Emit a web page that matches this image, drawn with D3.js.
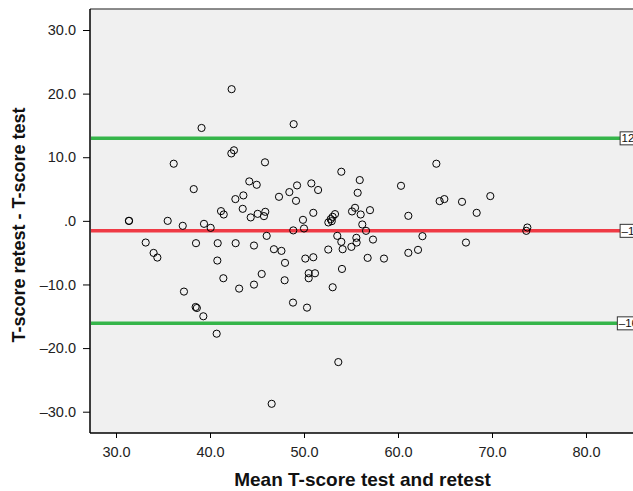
<!DOCTYPE html>
<html>
<head>
<meta charset="utf-8">
<script src="https://cdn.jsdelivr.net/npm/d3@7"></script>
<style>
  body { margin: 0; background: #fff; }
  svg { display: block; font-family: "Liberation Sans", Arial, sans-serif; }
</style>
</head>
<body>
<div id="chart"></div>
<script>
// mean of test and retest (x) and difference retest - test (y)
var meanScore = [42.3, 39.1, 48.9, 42.27, 42.55, 45.85, 36.14, 64.08, 53.97, 44.18,
  55.93, 44.97, 49.26, 50.78, 60.32, 38.27, 51.5, 48.44, 55.71, 43.55,
  47.34, 69.82, 42.7, 49.15, 64.43, 64.93, 66.81, 43.48, 41.17, 41.46,
  45.07, 45.88, 45.74, 44.33, 55.43, 55.11, 57.02, 56.03, 50.99, 68.37,
  61.1, 49.89, 53.3, 53.05, 52.84, 52.59, 52.95, 31.38, 31.38, 35.5,
  37.1, 39.36, 40.07, 48.86, 50.0, 56.2, 56.6, 73.76, 73.65, 46.03,
  53.54, 55.57, 57.34, 62.6, 33.16, 38.51, 40.82, 42.73, 44.68, 53.97,
  55.6, 67.23, 46.8, 47.6, 55.04, 54.11, 52.58, 62.13, 61.1, 34.0,
  34.4, 40.78, 47.98, 50.14, 50.99, 56.77, 58.51, 54.04, 45.5, 41.42,
  47.94, 50.5, 51.17, 50.5, 43.1, 44.68, 53.05, 37.23, 38.47, 38.6,
  39.29, 48.83, 50.32, 40.71, 46.56, 53.65]
var diffScore = [20.7, 14.6, 15.2, 10.6, 11.09, 9.2, 8.98, 8.98, 7.72, 6.2,
  6.41, 5.67, 5.57, 5.89, 5.51, 4.99, 4.85, 4.52, 4.41, 4.0,
  3.78, 3.89, 3.42, 3.15, 3.1, 3.42, 2.99, 1.89, 1.53, 1.0,
  1.1, 1.42, 0.74, 0.54, 2.05, 1.48, 1.68, 1.0, 1.26, 1.26,
  0.79, 0.16, 1.06, 0.63, 0.27, -0.25, -0.05, 0.0, 0.0, 0.0,
  -0.78, -0.47, -1.1, -1.5, -1.2, -0.57, -1.57, -1.05, -1.57, -2.36,
  -2.36, -2.67, -2.94, -2.41, -3.41, -3.51, -3.51, -3.51, -3.88, -3.3,
  -3.41, -3.41, -4.46, -4.72, -4.09, -4.46, -4.51, -4.56, -5.03, -5.04,
  -5.77, -6.24, -6.6, -5.93, -5.72, -5.82, -5.93, -7.56, -8.35, -9.02,
  -9.34, -8.24, -8.24, -9.02, -10.65, -10.02, -10.44, -11.12, -13.54, -13.7,
  -15.0, -12.85, -13.64, -17.74, -28.76, -22.2]

// mean difference and limits of agreement
var refValues = [12.97, -1.57, -16.11]
var refLabels = ['12.97', '\u20131.57', '\u201316.11']
var refColors = ['#35b54a', '#ef3a45', '#35b54a']

var xTicks = [30, 40, 50, 60, 70, 80]
var xTickLabels = ['30.0', '40.0', '50.0', '60.0', '70.0', '80.0']
var yTicks = [30, 20, 10, 0, -10, -20, -30]
var yTickLabels = ['30.0', '20.0', '10.0', '.0', '\u201310.0', '\u201320.0', '\u201330.0']

var W = 633, H = 491
var plot = {left: 90, top: 9, right: 633, bottom: 433}

var x = d3.scaleLinear().domain([30, 80]).range([116, 586])
var y = d3.scaleLinear().domain([-30, 30]).range([411.7, 30])

var svg = d3.select('#chart').append('svg')
  .attr('width', W)
  .attr('height', H)

svg.append('rect')
  .attr('x', plot.left)
  .attr('y', plot.top)
  .attr('width', plot.right - plot.left)
  .attr('height', plot.bottom - plot.top)
  .style('fill', '#f0f0f0')

svg.append('line')
  .attr('x1', plot.left).attr('x2', plot.right)
  .attr('y1', plot.top).attr('y2', plot.top)
  .style('stroke', '#666').style('stroke-width', 1.5)

// axes
var xAxis = d3.axisBottom(x)
  .tickValues(xTicks)
  .tickSize(5)
  .tickPadding(9)
  .tickFormat(function(d, i) { return xTickLabels[i] })

var gx = svg.append('g')
  .attr('transform', 'translate(0,' + plot.bottom + ')')
  .call(xAxis)
gx.select('.domain').remove()
gx.selectAll('.tick line').style('stroke', '#000')
gx.selectAll('text').style('font-size', '14.5px').style('fill', '#222')

var yAxis = d3.axisLeft(y)
  .tickValues(yTicks)
  .tickSize(7)
  .tickPadding(7)
  .tickFormat(function(d, i) { return yTickLabels[i] })

var gy = svg.append('g')
  .attr('transform', 'translate(' + plot.left + ',0)')
  .call(yAxis)
gy.select('.domain').remove()
gy.selectAll('.tick line').style('stroke', '#000')
gy.selectAll('text').style('font-size', '14.5px').style('fill', '#222')

svg.append('line')
  .attr('x1', plot.left).attr('x2', plot.left)
  .attr('y1', plot.top).attr('y2', plot.bottom)
  .style('stroke', '#000').style('stroke-width', 1.5)
svg.append('line')
  .attr('x1', plot.left).attr('x2', plot.right)
  .attr('y1', plot.bottom).attr('y2', plot.bottom)
  .style('stroke', '#000').style('stroke-width', 1.5)

// reference lines with boxed labels (cut off at the right edge, as in the original)
var refs = svg.append('g').selectAll('.ref')
  .data(refValues)
  .enter().append('g')
  .attr('class', 'ref')

refs.each(function(d, i) {
  var g = d3.select(this)
  var line = g.append('line')
    .attr('x1', plot.left + 1)
    .attr('y1', y(d)).attr('y2', y(d))
    .style('stroke', refColors[i])
    .style('stroke-width', 3.5)
  var txt = g.append('text')
    .attr('x', 636)
    .attr('y', y(d))
    .attr('dy', '0.36em')
    .attr('text-anchor', 'middle')
    .style('font-size', '11.5px')
    .style('fill', '#111')
    .text(refLabels[i])
  var bb = txt.node().getBBox()
  g.insert('rect', 'text')
    .attr('x', bb.x - 1.5)
    .attr('y', y(d) - 6.5)
    .attr('width', bb.width + 3)
    .attr('height', 13)
    .style('fill', '#fff')
    .style('stroke', '#333')
    .style('stroke-width', 1)
  line.attr('x2', bb.x - 1.5)
})

// points
svg.append('g').selectAll('circle')
  .data(meanScore)
  .enter().append('circle')
  .attr('cx', function(d) { return x(d) })
  .attr('cy', function(d, i) { return y(diffScore[i]) })
  .attr('r', 3.6)
  .style('fill', 'none')
  .style('stroke', '#000')
  .style('stroke-width', 1)

// titles
svg.append('text')
  .attr('x', (232 + 493) / 2)
  .attr('y', 486)
  .attr('text-anchor', 'middle')
  .style('font-size', '19px')
  .style('font-weight', 'bold')
  .style('fill', '#111')
  .text('Mean T-score test and retest')

svg.append('text')
  .attr('transform', 'translate(25,225) rotate(-90)')
  .attr('text-anchor', 'middle')
  .style('font-size', '18px')
  .style('font-weight', 'bold')
  .style('fill', '#111')
  .text('T-score retest - T-score test')
</script>
</body>
</html>
